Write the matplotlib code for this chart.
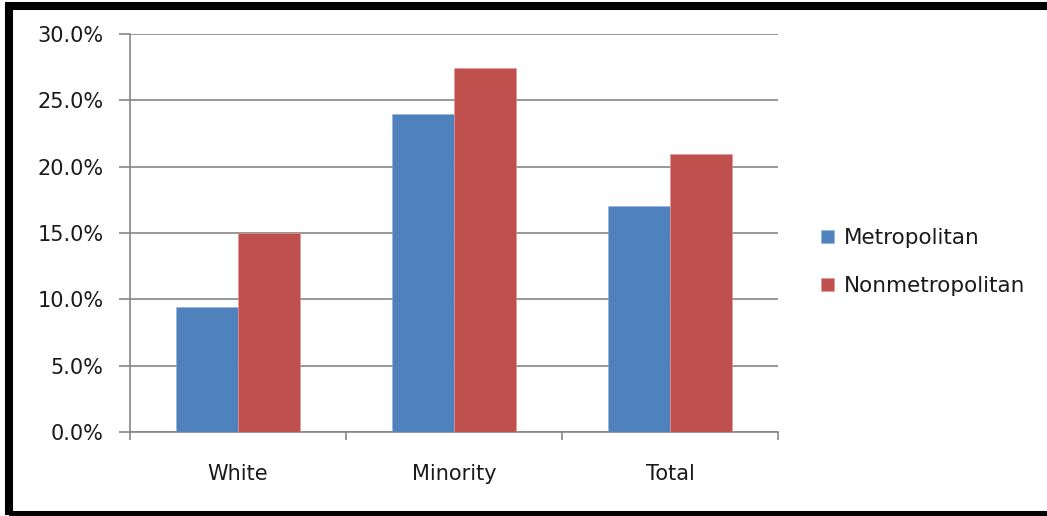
import matplotlib
matplotlib.use("Agg")
import matplotlib.pyplot as plt
import numpy as np
from matplotlib.patches import Rectangle
from matplotlib.ticker import PercentFormatter, FixedLocator

categories = ["White", "Minority", "Total"]
metropolitan = [9.45, 24.0, 17.0]
nonmetropolitan = [15.0, 27.45, 20.95]
series_names = ["Metropolitan", "Nonmetropolitan"]
yticks = [0, 5, 10, 15, 20, 25, 30]

W, H = 1047, 516
fig = plt.figure(figsize=(W / 100, H / 100), dpi=100)
fig.patch.set_facecolor("white")

# axes area in pixels
x0, x1, ytop, ybot = 130, 778, 34, 432
ax = fig.add_axes([x0 / W, (H - ybot) / H, (x1 - x0) / W, (ybot - ytop) / H])

blue = "#4F81BD"
red = "#C0504D"
grid = "#868686"

x = np.arange(len(categories))
bw = 1 / 3.5
ax.bar(x - bw / 2, metropolitan, bw, color=blue, label=series_names[0], zorder=3,
       edgecolor="#8FB0DC", linewidth=0.4)
ax.bar(x + bw / 2, nonmetropolitan, bw, color=red, label=series_names[1], zorder=3,
       edgecolor="#E29A98", linewidth=0.4)

ax.set_xlim(-0.5, len(categories) - 0.5)
ax.set_ylim(0, 30)
ax.set_yticks(yticks)
ax.yaxis.set_major_formatter(PercentFormatter(decimals=1))
ax.yaxis.grid(True, color=grid, linewidth=1.2, zorder=0)
ax.set_axisbelow(True)

# category boundary ticks (major) and labels at centers (minor)
ax.xaxis.set_major_locator(FixedLocator(np.arange(len(categories) + 1) - 0.5))
ax.xaxis.set_minor_locator(FixedLocator(x))
ax.set_xticklabels([""] * (len(categories) + 1))
ax.set_xticklabels(categories, minor=True)
ax.tick_params(axis="x", which="major", length=6, width=1.2, color=grid, direction="out")
ax.tick_params(axis="x", which="minor", length=0, pad=23, labelsize=15, labelcolor="#1a1a1a")
ax.tick_params(axis="y", length=8, width=1.2, color=grid, pad=11, labelsize=15, labelcolor="#1a1a1a")

for s in ["top", "right"]:
    ax.spines[s].set_visible(False)
ax.spines["left"].set_color(grid)
ax.spines["left"].set_linewidth(1.2)
ax.spines["bottom"].set_color(grid)
ax.spines["bottom"].set_linewidth(1.2)

leg = ax.legend(loc="center left", bbox_to_anchor=((821 - x0) / (x1 - x0), (ybot - 262) / (ybot - ytop)),
                frameon=False, fontsize=15.5, handlelength=0.6, handleheight=0.6,
                handletextpad=0.45, labelspacing=1.3, borderaxespad=0, borderpad=0)
for t in leg.get_texts():
    t.set_color("#1a1a1a")

# outer black border
fig.patches.append(Rectangle((8.5 / W, 1 - 515 / H), (1070 - 8.5) / W, (515 - 6) / H,
                             transform=fig.transFigure, fill=False, edgecolor="black",
                             linewidth=5.8, zorder=10))

fig.savefig("out.png", dpi=100, facecolor="white")
